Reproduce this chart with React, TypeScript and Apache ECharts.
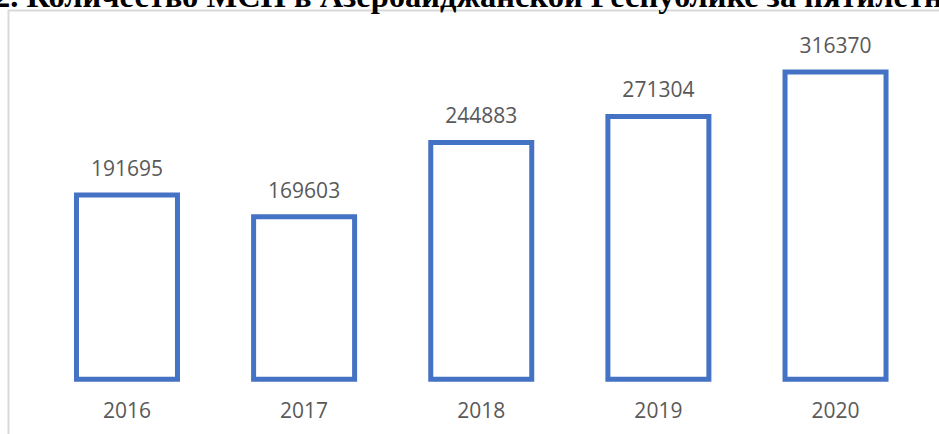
import React, { useEffect, useRef } from "react";
import * as echarts from "echarts";

const titleText = "2. Количество МСП в Азербайджанской Республике за пятилетний период";
const years = ["2016", "2017", "2018", "2019", "2020"];
const smeCounts = [191695, 169603, 244883, 271304, 316370];

export default function App() {
  const ref = useRef<HTMLDivElement>(null);
  useEffect(() => {
    if (!ref.current) return;
    const chart = echarts.init(ref.current, undefined, { renderer: "svg" });
    chart.setOption({
      animation: false,
      backgroundColor: "#ffffff",
      grid: { left: 38.4, right: 14.9, top: 36.2, bottom: 52.3, containLabel: false },
      xAxis: {
        type: "category",
        data: years,
        axisLine: { show: false },
        axisTick: { show: false },
        axisLabel: {
          color: "#595959",
          fontFamily: "'Open Sans'",
          fontSize: 21,
          margin: 18,
        },
      },
      yAxis: {
        type: "value",
        min: 0,
        max: 350000,
        interval: 50000,
        show: false,
        splitLine: { show: false },
      },
      series: [
        {
          type: "bar",
          data: smeCounts,
          barWidth: 106,
          itemStyle: { color: "#ffffff", borderColor: "#4472C4", borderWidth: 5 },
          label: {
            show: true,
            position: "top",
            distance: 14,
            color: "#595959",
            fontFamily: "'Open Sans'",
            fontSize: 21,
          },
        },
      ],
      graphic: [
        {
          type: "rect",
          shape: { x: 8.5, y: 10.5, width: 1000, height: 500 },
          style: { fill: "none", stroke: "#d9d9d9", lineWidth: 2 },
          z: -1,
        },
        {
          type: "text",
          x: -6,
          y: 12,
          style: {
            text: titleText,
            font: "bold 32.5px 'Liberation Serif'",
            fill: "#000000",
            verticalAlign: "bottom",
          },
        },
      ],
    });
    return () => chart.dispose();
  }, []);
  return (
    <div
      ref={ref}
      style={{ position: "fixed", left: 0, top: 0, width: 939, height: 434 }}
    />
  );
}
